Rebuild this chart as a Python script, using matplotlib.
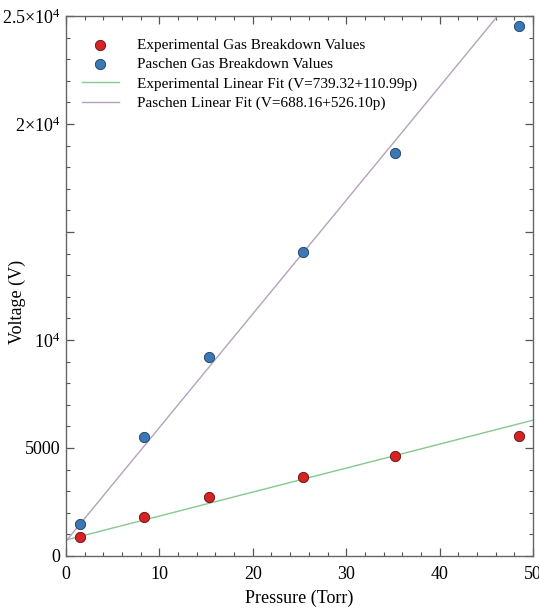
import matplotlib
matplotlib.use("Agg")
import matplotlib.pyplot as plt
import numpy as np
from matplotlib.ticker import FixedLocator, FixedFormatter, MultipleLocator

plt.rcParams['font.family'] = ['Liberation Serif', 'DejaVu Serif']
plt.rcParams['mathtext.fontset'] = 'custom'
plt.rcParams['mathtext.rm'] = 'Liberation Serif'
plt.rcParams['mathtext.it'] = 'Liberation Serif:italic'

pressure = [1.5, 8.3, 15.3, 25.4, 35.2, 48.5]
exp_voltage = [880, 1810, 2730, 3660, 4630, 5560]
paschen_voltage = [1480, 5510, 9210, 14070, 18660, 24540]
exp_fit = (739.32, 110.99)
paschen_fit = (688.16, 526.10)
y_ticks = [0, 5000, 10000, 15000, 20000, 25000]
y_ticklabels = ['0', '5000', r'$10^4$', '', r'$2{\times}10^4$', r'$2.5{\times}10^4$']

fig = plt.figure(figsize=(5.39, 6.14), dpi=100)
ax = fig.add_axes([66/539, 58/614, 467/539, 540/614])

xfit = np.array([0, 50])
ax.plot(xfit, exp_fit[0] + exp_fit[1]*xfit, color='#86c98e', lw=1.0, zorder=2,
        label='Experimental Linear Fit (V=739.32+110.99p)')
ax.plot(xfit, paschen_fit[0] + paschen_fit[1]*xfit, color='#b4a2bd', lw=1.0, zorder=2,
        label='Paschen Linear Fit (V=688.16+526.10p)')
ax.scatter(pressure, exp_voltage, s=55, color='#d62222', edgecolor='#5a1010', lw=0.6, zorder=3,
           label='Experimental Gas Breakdown Values')
ax.scatter(pressure, paschen_voltage, s=55, color='#3b79b6', edgecolor='#1d3d5c', lw=0.6, zorder=3,
           label='Paschen Gas Breakdown Values')

ax.set_xlim(0, 50)
ax.set_ylim(0, 25000)
ax.xaxis.set_major_locator(MultipleLocator(10))
ax.xaxis.set_minor_locator(MultipleLocator(2))
ax.yaxis.set_major_locator(FixedLocator(y_ticks))
ax.yaxis.set_major_formatter(FixedFormatter(y_ticklabels))
ax.yaxis.set_minor_locator(MultipleLocator(1000))
ax.tick_params(which='both', direction='in', top=True, right=True, labelsize=13, colors='#555555', labelcolor='black')
ax.tick_params(which='major', length=6, width=0.9)
ax.tick_params(which='minor', length=3, width=0.8)
ax.tick_params(axis='x', which='major', pad=7)
ax.tick_params(axis='y', which='major', pad=4)
for s in ax.spines.values():
    s.set_color('#666666')
    s.set_linewidth(1.0)

ax.set_xlabel('Pressure (Torr)', fontsize=13)
ax.set_ylabel('Voltage (V)', fontsize=13)
ax.xaxis.set_label_coords(0.5, -0.062)
ax.yaxis.set_label_coords(-0.085, 0.47)

h, l = ax.get_legend_handles_labels()
order = [2, 3, 0, 1]
ax.legend([h[i] for i in order], [l[i] for i in order], loc='upper left', frameon=False,
          fontsize=11, bbox_to_anchor=(0.005, 0.985), handlelength=2.4, labelspacing=0.38,
          handletextpad=1.2)

fig.savefig('out.png', dpi=100)
